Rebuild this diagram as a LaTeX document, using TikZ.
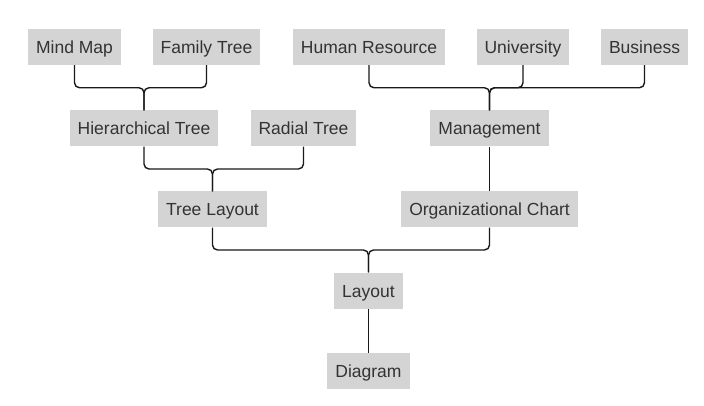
\documentclass[tikz,border=0pt]{standalone}
\usepackage{fontspec}
\setmainfont{Liberation Sans}
\usetikzlibrary{calc}
\definecolor{boxgray}{HTML}{D4D4D4}
\definecolor{textgray}{HTML}{333333}

\begin{document}
\begin{tikzpicture}[x=1pt, y=-1pt,
    every node/.style={font=\fontsize{17.5}{21}\selectfont, text=textgray},
    box/.style={fill=boxgray, inner xsep=8pt, inner ysep=0pt, text height=15pt, text depth=2pt, minimum height=36pt},
    link/.style={draw=black!90, line width=1.4pt, rounded corners=5pt}]
    \useasboundingbox (0,0) rectangle (704,406);

    \node[box] (mindmap) at (74.5,47) {Mind Map};
    \node[box] (familytree) at (206.5,47) {Family Tree};
    \node[box] (humanres) at (369,47) {Human Resource};
    \node[box] (university) at (523,47) {University};
    \node[box] (business) at (644.5,47) {Business};

    \node[box] (hiertree) at (144,128.5) {Hierarchical Tree};
    \node[box] (radialtree) at (303.5,128.5) {Radial Tree};
    \node[box] (management) at (489.5,128.5) {Management};

    \node[box] (treelayout) at (212.5,209.5) {Tree Layout};
    \node[box] (orgchart) at (489.5,209.5) {Organizational Chart};

    \node[box] (layout) at (368.5,290.5) {Layout};
    \node[box] (diagram) at (368.5,371) {Diagram};

    \foreach \child/\parent in {mindmap/hiertree, familytree/hiertree,
        humanres/management, university/management, business/management,
        hiertree/treelayout, radialtree/treelayout,
        treelayout/layout, orgchart/layout}
      \draw[link] (\child.south) |- ($(\child.south)!.5!(\parent.north)$) -| (\parent.north);
    \draw[link] (management) -- (orgchart);
    \draw[link] (layout) -- (diagram);
\end{tikzpicture}
\end{document}
